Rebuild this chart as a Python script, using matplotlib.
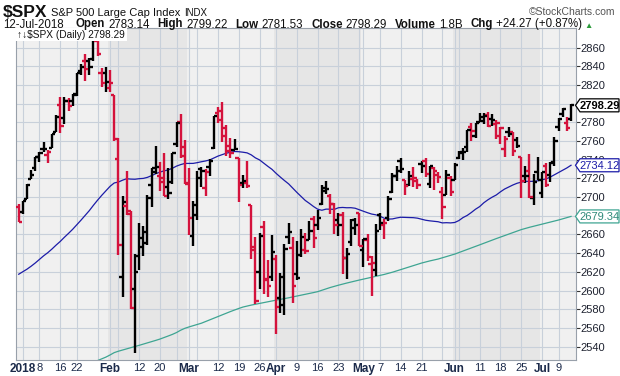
import numpy as np
import pandas as pd
import matplotlib
matplotlib.use("Agg")
import matplotlib.pyplot as plt
from matplotlib.patches import Polygon

plt.rcParams['font.family'] = ['Liberation Sans', 'DejaVu Sans']

# $SPX daily bars, 29-Dec-2017 .. 12-Jul-2018
dates = ['2017-12-29',
    '2018-01-02', '2018-01-03', '2018-01-04', '2018-01-05', '2018-01-08', '2018-01-09', '2018-01-10',
    '2018-01-11', '2018-01-12', '2018-01-16', '2018-01-17', '2018-01-18', '2018-01-19', '2018-01-22',
    '2018-01-23', '2018-01-24', '2018-01-25', '2018-01-26', '2018-01-29', '2018-01-30', '2018-01-31',
    '2018-02-01', '2018-02-02', '2018-02-05', '2018-02-06', '2018-02-07', '2018-02-08', '2018-02-09',
    '2018-02-12', '2018-02-13', '2018-02-14', '2018-02-15', '2018-02-16', '2018-02-20', '2018-02-21',
    '2018-02-22', '2018-02-23', '2018-02-26', '2018-02-27', '2018-02-28',
    '2018-03-01', '2018-03-02', '2018-03-05', '2018-03-06', '2018-03-07', '2018-03-08', '2018-03-09',
    '2018-03-12', '2018-03-13', '2018-03-14', '2018-03-15', '2018-03-16', '2018-03-19', '2018-03-20',
    '2018-03-21', '2018-03-22', '2018-03-23', '2018-03-26', '2018-03-27', '2018-03-28', '2018-03-29',
    '2018-04-02', '2018-04-03', '2018-04-04', '2018-04-05', '2018-04-06', '2018-04-09', '2018-04-10',
    '2018-04-11', '2018-04-12', '2018-04-13', '2018-04-16', '2018-04-17', '2018-04-18', '2018-04-19',
    '2018-04-20', '2018-04-23', '2018-04-24', '2018-04-25', '2018-04-26', '2018-04-27', '2018-04-30',
    '2018-05-01', '2018-05-02', '2018-05-03', '2018-05-04', '2018-05-07', '2018-05-08', '2018-05-09',
    '2018-05-10', '2018-05-11', '2018-05-14', '2018-05-15', '2018-05-16', '2018-05-17', '2018-05-18',
    '2018-05-21', '2018-05-22', '2018-05-23', '2018-05-24', '2018-05-25', '2018-05-29', '2018-05-30',
    '2018-05-31',
    '2018-06-01', '2018-06-04', '2018-06-05', '2018-06-06', '2018-06-07', '2018-06-08', '2018-06-11',
    '2018-06-12', '2018-06-13', '2018-06-14', '2018-06-15', '2018-06-18', '2018-06-19', '2018-06-20',
    '2018-06-21', '2018-06-22', '2018-06-25', '2018-06-26', '2018-06-27', '2018-06-28', '2018-06-29',
    '2018-07-02', '2018-07-03', '2018-07-05', '2018-07-06', '2018-07-09', '2018-07-10', '2018-07-11',
    '2018-07-12']

opens = [2689.15,
    2683.73, 2697.85, 2719.31, 2731.33, 2742.67, 2751.15, 2745.55, 2752.97, 2770.18, 2798.96, 2784.99,
    2802.40, 2802.60, 2809.16, 2835.05, 2845.42, 2846.24, 2847.48, 2867.23, 2832.74, 2832.41,
    2816.45, 2808.92, 2741.06, 2614.78, 2690.95, 2685.01, 2601.78, 2636.75, 2646.27, 2651.21, 2713.46,
    2727.14, 2722.99, 2720.53, 2710.42, 2715.80, 2757.37, 2780.45, 2753.78,
    2715.22, 2658.89, 2681.06, 2730.18, 2710.18, 2732.75, 2752.91, 2790.54, 2792.31, 2774.06, 2754.27,
    2750.57, 2741.38, 2715.05, 2714.99, 2691.36, 2646.71, 2619.35, 2667.57, 2611.30, 2614.41,
    2633.45, 2592.17, 2584.04, 2657.36, 2645.82, 2617.18, 2638.41, 2643.89, 2653.83, 2676.90, 2670.10,
    2692.74, 2710.11, 2701.16, 2692.56, 2675.40, 2680.80, 2634.92, 2651.65, 2675.47, 2682.51,
    2642.96, 2654.24, 2628.08, 2621.45, 2680.34, 2670.26, 2678.12, 2705.02, 2722.70, 2738.47, 2718.59,
    2712.62, 2719.71, 2717.35, 2735.39, 2738.34, 2713.98, 2730.94, 2723.60, 2705.11, 2702.43, 2720.98,
    2718.70, 2741.67, 2748.46, 2753.25, 2774.84, 2765.84, 2780.18, 2785.60, 2787.94, 2783.21, 2777.78,
    2765.79, 2752.01, 2769.73, 2769.28, 2760.79, 2742.94, 2722.12, 2728.45, 2698.69, 2727.13,
    2704.95, 2733.27, 2724.19, 2737.68, 2775.62, 2788.56, 2779.82, 2783.14]

highs = [2692.12,
    2695.89, 2714.37, 2729.29, 2743.45, 2748.51, 2759.14, 2750.80, 2767.56, 2787.85, 2807.54, 2807.04,
    2805.83, 2810.33, 2833.03, 2842.24, 2852.97, 2848.56, 2872.87, 2870.62, 2837.75, 2839.26,
    2835.96, 2808.92, 2763.39, 2701.04, 2727.67, 2685.27, 2638.67, 2672.61, 2668.84, 2702.10, 2731.51,
    2754.42, 2737.60, 2747.75, 2731.26, 2747.76, 2780.64, 2789.15, 2761.52,
    2730.89, 2696.25, 2728.09, 2732.08, 2730.60, 2740.45, 2786.57, 2796.98, 2801.90, 2777.11, 2763.03,
    2761.85, 2741.38, 2724.22, 2739.14, 2691.36, 2657.67, 2661.36, 2674.78, 2632.65, 2659.07,
    2638.30, 2619.14, 2649.86, 2672.08, 2656.88, 2653.55, 2665.45, 2661.43, 2674.72, 2680.26, 2686.49,
    2713.34, 2717.49, 2702.84, 2693.94, 2682.86, 2683.55, 2645.30, 2676.48, 2677.35, 2682.87,
    2655.27, 2660.87, 2637.14, 2670.93, 2683.35, 2676.34, 2701.27, 2726.11, 2732.86, 2742.10, 2718.59,
    2727.76, 2731.96, 2719.50, 2739.19, 2742.24, 2733.33, 2731.97, 2727.36, 2710.67, 2729.34, 2722.50,
    2736.93, 2749.16, 2752.61, 2772.39, 2779.90, 2779.39, 2790.21, 2789.80, 2791.47, 2789.06, 2782.81,
    2774.99, 2765.05, 2774.86, 2769.28, 2764.17, 2742.94, 2732.91, 2746.09, 2724.34, 2743.26,
    2727.26, 2736.58, 2737.83, 2764.41, 2784.65, 2795.58, 2785.91, 2799.22]

lows = [2673.61,
    2682.36, 2697.77, 2719.07, 2727.92, 2737.60, 2747.86, 2736.06, 2752.78, 2769.64, 2768.64, 2778.38,
    2792.56, 2798.08, 2808.12, 2830.59, 2824.81, 2830.94, 2846.18, 2851.48, 2818.27, 2813.04,
    2812.70, 2759.97, 2638.17, 2593.07, 2681.33, 2580.56, 2532.69, 2622.45, 2637.08, 2648.87, 2689.82,
    2725.11, 2706.76, 2701.29, 2697.77, 2713.74, 2753.78, 2742.10, 2713.54,
    2659.65, 2647.32, 2675.75, 2711.26, 2701.74, 2722.65, 2751.54, 2779.26, 2758.68, 2744.38, 2741.47,
    2749.97, 2694.59, 2710.05, 2709.79, 2633.40, 2585.89, 2601.81, 2596.12, 2593.06, 2609.72,
    2553.80, 2575.49, 2573.61, 2649.58, 2586.27, 2610.79, 2635.78, 2639.25, 2653.83, 2645.05, 2665.16,
    2692.05, 2703.63, 2681.90, 2660.61, 2657.99, 2617.32, 2612.67, 2647.16, 2659.01, 2648.04,
    2625.41, 2631.70, 2594.62, 2615.32, 2664.70, 2655.20, 2674.14, 2704.54, 2717.45, 2725.47, 2701.91,
    2712.17, 2711.36, 2709.18, 2725.70, 2721.88, 2709.54, 2707.38, 2714.99, 2676.81, 2702.43, 2700.68,
    2718.70, 2740.54, 2739.51, 2748.46, 2760.16, 2763.59, 2780.17, 2778.78, 2774.65, 2776.52, 2761.73,
    2757.12, 2743.19, 2763.91, 2744.39, 2752.68, 2698.67, 2715.60, 2699.38, 2691.99, 2718.03,
    2698.95, 2711.16, 2716.02, 2733.52, 2770.73, 2786.24, 2770.77, 2781.53]

closes = [2673.61,
    2695.81, 2713.06, 2723.99, 2743.15, 2747.71, 2751.29, 2748.23, 2767.56, 2786.24, 2776.42, 2802.56,
    2798.03, 2810.30, 2832.97, 2839.13, 2837.54, 2839.25, 2872.87, 2853.53, 2822.43, 2823.81,
    2821.98, 2762.13, 2648.94, 2695.14, 2681.66, 2581.00, 2619.55, 2656.00, 2662.94, 2698.63, 2731.20,
    2732.22, 2716.26, 2701.33, 2703.96, 2747.30, 2779.60, 2744.28, 2713.83,
    2677.67, 2691.25, 2720.94, 2728.12, 2726.80, 2738.97, 2786.57, 2783.02, 2765.31, 2749.48, 2747.33,
    2752.01, 2712.92, 2716.94, 2711.93, 2643.69, 2588.26, 2658.55, 2612.62, 2605.00, 2640.87,
    2581.88, 2614.45, 2644.69, 2662.84, 2604.47, 2613.16, 2656.87, 2642.19, 2663.99, 2656.30, 2677.84,
    2706.39, 2708.64, 2693.13, 2670.14, 2670.29, 2634.56, 2639.40, 2666.94, 2669.91, 2648.05,
    2654.80, 2635.67, 2629.73, 2663.42, 2672.63, 2671.92, 2697.79, 2723.07, 2727.72, 2730.13, 2711.45,
    2722.46, 2720.13, 2712.97, 2733.01, 2724.44, 2733.29, 2727.76, 2721.33, 2689.86, 2724.01, 2705.27,
    2734.62, 2746.87, 2748.80, 2772.35, 2770.37, 2779.03, 2782.00, 2786.85, 2775.63, 2782.49, 2779.66,
    2773.75, 2762.59, 2767.32, 2749.76, 2754.88, 2717.07, 2723.06, 2699.63, 2716.31, 2718.37,
    2726.71, 2713.22, 2736.61, 2759.82, 2784.17, 2793.84, 2774.02, 2798.29]

prev_close = 2687.54   # close of 28-Dec-2017, sets the colour of the first bar

# 50-day moving average (blue line)
sma50 = [2617.43,
    2620.10, 2622.86, 2626.04, 2629.52, 2633.34, 2637.15, 2640.50, 2644.39, 2648.61, 2652.55, 2657.01,
    2661.21, 2665.59, 2670.44, 2675.33, 2680.39, 2685.53, 2691.29, 2696.78, 2701.94, 2706.70,
    2711.56, 2715.16, 2716.16, 2718.12, 2719.71, 2719.30, 2719.15, 2719.75, 2720.05, 2721.18, 2723.02,
    2725.07, 2726.81, 2728.10, 2729.15, 2730.89, 2733.20, 2734.83, 2736.07,
    2736.11, 2736.13, 2736.92, 2737.89, 2738.73, 2739.84, 2741.96, 2743.96, 2745.52, 2747.04, 2748.07,
    2748.85, 2748.63, 2748.10, 2747.39, 2745.24, 2742.04, 2739.86, 2736.38, 2732.96, 2729.72,
    2725.40, 2721.48, 2717.72, 2714.19, 2709.53, 2705.01, 2700.69, 2696.46, 2693.29, 2689.94, 2687.06,
    2685.94, 2687.14, 2687.10, 2686.87, 2688.65, 2688.95, 2688.62, 2688.70, 2688.13, 2686.46,
    2684.91, 2683.30, 2681.87, 2681.06, 2679.57, 2677.41, 2676.48, 2676.67, 2677.67, 2678.45, 2678.26,
    2678.14, 2678.01, 2677.49, 2676.42, 2675.25, 2674.61, 2674.17, 2673.65, 2672.41, 2672.63, 2672.40,
    2672.85, 2674.92, 2678.13, 2680.40, 2683.56, 2687.04, 2689.86, 2693.96, 2697.18, 2699.94, 2702.28,
    2705.66, 2708.65, 2710.86, 2713.01, 2714.83, 2716.04, 2716.95, 2716.81, 2716.97, 2717.47,
    2718.60, 2719.46, 2721.50, 2723.91, 2726.26, 2728.73, 2731.25, 2734.12]

# 200-day moving average (teal line), below the chart until late January
sma200 = [np.nan] * 18 + [2523.5, 2525.0,
    2526.8, 2528.7,
    2531.0, 2533.5, 2535.0, 2536.3, 2537.5, 2538.8, 2540.0, 2541.3, 2542.6, 2543.8, 2545.2,
    2546.6, 2548.0, 2549.6, 2551.3, 2553.0, 2555.0, 2557.5, 2559.5,
    2561.0, 2562.3, 2563.5, 2565.0, 2566.8, 2568.6, 2570.4, 2572.2, 2574.0, 2575.8, 2577.5,
    2579.2, 2580.8, 2582.3, 2583.4, 2584.4, 2585.3, 2586.2, 2587.1, 2588.0, 2588.9,
    2589.7, 2590.5, 2591.3, 2592.2, 2593.2, 2594.1, 2595.0, 2596.0, 2596.9, 2597.8, 2598.8,
    2600.3, 2601.8, 2603.2, 2604.5, 2605.7, 2606.9, 2608.0, 2609.1, 2610.2, 2611.2,
    2612.2, 2613.1, 2614.1, 2615.1, 2616.1, 2617.2, 2618.4, 2619.6, 2621.0, 2622.4, 2623.8,
    2625.1, 2626.5, 2628.0, 2629.4, 2630.6, 2631.7, 2632.7, 2633.7, 2635.0, 2636.3, 2637.7,
    2639.0, 2640.6, 2642.3, 2644.0, 2645.6, 2647.2, 2648.9, 2650.6, 2652.3, 2654.0, 2655.6,
    2657.2, 2658.8, 2660.4, 2662.0, 2663.6, 2665.2, 2666.5, 2667.7, 2668.8, 2669.9,
    2671.0, 2672.1, 2673.2, 2674.2, 2675.5, 2676.8, 2678.1, 2679.34]

xtick_dates = ['2018-01-02', '2018-01-08', '2018-01-16', '2018-01-22', '2018-02-01', '2018-02-12',
               '2018-02-20', '2018-03-01', '2018-03-12', '2018-03-19', '2018-03-26', '2018-04-02',
               '2018-04-09', '2018-04-16', '2018-04-23', '2018-05-01', '2018-05-07', '2018-05-14',
               '2018-05-21', '2018-06-01', '2018-06-11', '2018-06-18', '2018-06-25', '2018-07-02',
               '2018-07-09']
xtick_labels = ['2018', '8', '16', '22', 'Feb', '12', '20', 'Mar', '12', '19', '26', 'Apr', '9',
                '16', '23', 'May', '7', '14', '21', 'Jun', '11', '18', '25', 'Jul', '9']

RED = '#d4123c'
BLUE = '#1c1ca8'
TEAL = '#3ea592'
NAVY = '#1b2a4a'

df = pd.DataFrame({'date': pd.to_datetime(dates), 'open': opens, 'high': highs,
                   'low': lows, 'close': closes, 'sma50': sma50, 'sma200': sma200})
x = np.arange(len(df))
prev = np.r_[prev_close, df['close'].values[:-1]]
colors = np.where(df['close'].values >= prev, 'black', RED)

# gridlines: first trading day of each week and of each month
d = df['date']
week = d.dt.isocalendar().week.values
new_week = np.r_[False, week[1:] != week[:-1]]
new_month = np.r_[False, d.dt.month.values[1:] != d.dt.month.values[:-1]]
grid_idx = x[new_week | new_month | (x == 1)]

W, H = 620, 376
fig = plt.figure(figsize=(W / 100, H / 100), dpi=100)
L, R, T, B = 16, 576, 28, 360
ax = fig.add_axes([L / W, 1 - B / H, (R - L) / W, (B - T) / H])
ax.set_xlim(-0.65, 134.2)
ax.set_ylim(2525.6, 2881.1)
ax.set_facecolor('#f0f0f0')

# darker band for every other month
for m in (2, 4, 6):
    idx = x[d.dt.month.values == m]
    ax.axvspan(idx[0] - 0.5, idx[-1] + 0.5, color='#e6e6e6', lw=0, zorder=0)

for gi in grid_idx:
    ax.axvline(gi, color='#c8d0da', lw=0.8, zorder=0.5)
yt = np.arange(2540, 2861, 20)
ax.set_yticks(yt)
# labels at 2800 and 2680 sit under the last-value tags
ax.set_yticklabels(['' if v in (2800, 2680) else str(v) for v in yt])
for v in yt:
    ax.axhline(v, color='#c8d0da', lw=0.8, zorder=0.5)

for s in ax.spines.values():
    s.set_color('#98a0aa')
    s.set_linewidth(0.8)

ax.yaxis.tick_right()
ax.tick_params(axis='y', direction='out', length=3, width=0.8, color='#333333',
               labelsize=8, labelcolor='#1e2230', pad=0.5)

pos = [int(np.where(d == pd.Timestamp(t))[0][0]) for t in xtick_dates]
ax.set_xticks(pos)
ax.set_xticklabels(xtick_labels)
ax.tick_params(axis='x', length=0, pad=2.5, labelsize=8, labelcolor=NAVY)
for t in ax.get_xticklabels():
    if not t.get_text().isdigit() or t.get_text() == '2018':
        t.set_fontweight('bold')
        t.set_fontsize(8.5)

# moving averages
ax.plot(x, df['sma50'], color=BLUE, lw=0.9, zorder=2)
ax.plot(x, df['sma200'], color=TEAL, lw=0.9, zorder=2)

# OHLC bars
lw = 1.7
ax.vlines(x, df['low'], df['high'], colors=colors, lw=lw, zorder=3)
ax.hlines(df['open'], x - 0.8, x, colors=colors, lw=lw, zorder=3)
ax.hlines(df['close'], x, x + 0.8, colors=colors, lw=lw, zorder=3)

ax.text(0.002, 0.995, '\u2191\u2193$SPX (Daily) 2798.29', transform=ax.transAxes,
        ha='left', va='top', fontsize=7.3, color='#111111', zorder=6,
        bbox=dict(boxstyle='square,pad=0.18', fc='white', ec='none'))


def fx(px):
    return px / W


def fy(py):
    return 1 - py / H


# last-value tags on the right
fig.canvas.draw()
for val, tc, ec, wt in [(closes[-1], '#000000', '#000000', 'bold'),
                        (sma50[-1], BLUE, BLUE, 'normal'),
                        (sma200[-1], '#2f8a7a', TEAL, 'normal')]:
    yp = H - ax.transData.transform((0, val))[1]
    hh = 6.5
    pts = [(575.5, yp), (580, yp - hh), (619, yp - hh), (619, yp + hh), (580, yp + hh)]
    fig.patches.append(Polygon([(fx(a), fy(b)) for a, b in pts], closed=True,
                               transform=fig.transFigure, fc='white', ec=ec, lw=0.9,
                               zorder=5))
    fig.text(fx(599.5), fy(yp), '%.2f' % val, ha='center', va='center_baseline',
             fontsize=8, color=tc, fontweight=wt, zorder=6)

# header
fig.text(fx(3), fy(17), '$SPX', fontsize=12.5, fontweight='bold', color='#111111')
fig.text(fx(51), fy(16.5), 'S&P 500 Large Cap Index', fontsize=8, color='#111111')
fig.text(fx(184), fy(16.5), 'INDX', fontsize=7, color='#111111')
fig.text(fx(615), fy(15), '\u00a9StockCharts.com', fontsize=7.5, color='#555555', ha='right')

r = fig.canvas.get_renderer()
parts = [('12-Jul-2018', 'normal', 12), ('Open', 'bold', 3), ('2783.14', 'normal', 8),
         ('High', 'bold', 3), ('2799.22', 'normal', 8), ('Low', 'bold', 3),
         ('2781.53', 'normal', 8), ('Close', 'bold', 3), ('2798.29', 'normal', 8),
         ('Volume', 'bold', 3), ('1.8B', 'normal', 8), ('Chg', 'bold', 3),
         ('+24.27 (+0.87%)', 'normal', 3)]
xp = 3
for s, wt, gap in parts:
    t = fig.text(fx(xp), fy(27.5), s, fontsize=8.3, fontweight=wt, color='#111111')
    xp += t.get_window_extent(r).width + gap
fig.text(fx(xp), fy(27.5), '\u25b2', fontsize=6, color='#2a9a3a')

fig.savefig('out.png', dpi=100)
